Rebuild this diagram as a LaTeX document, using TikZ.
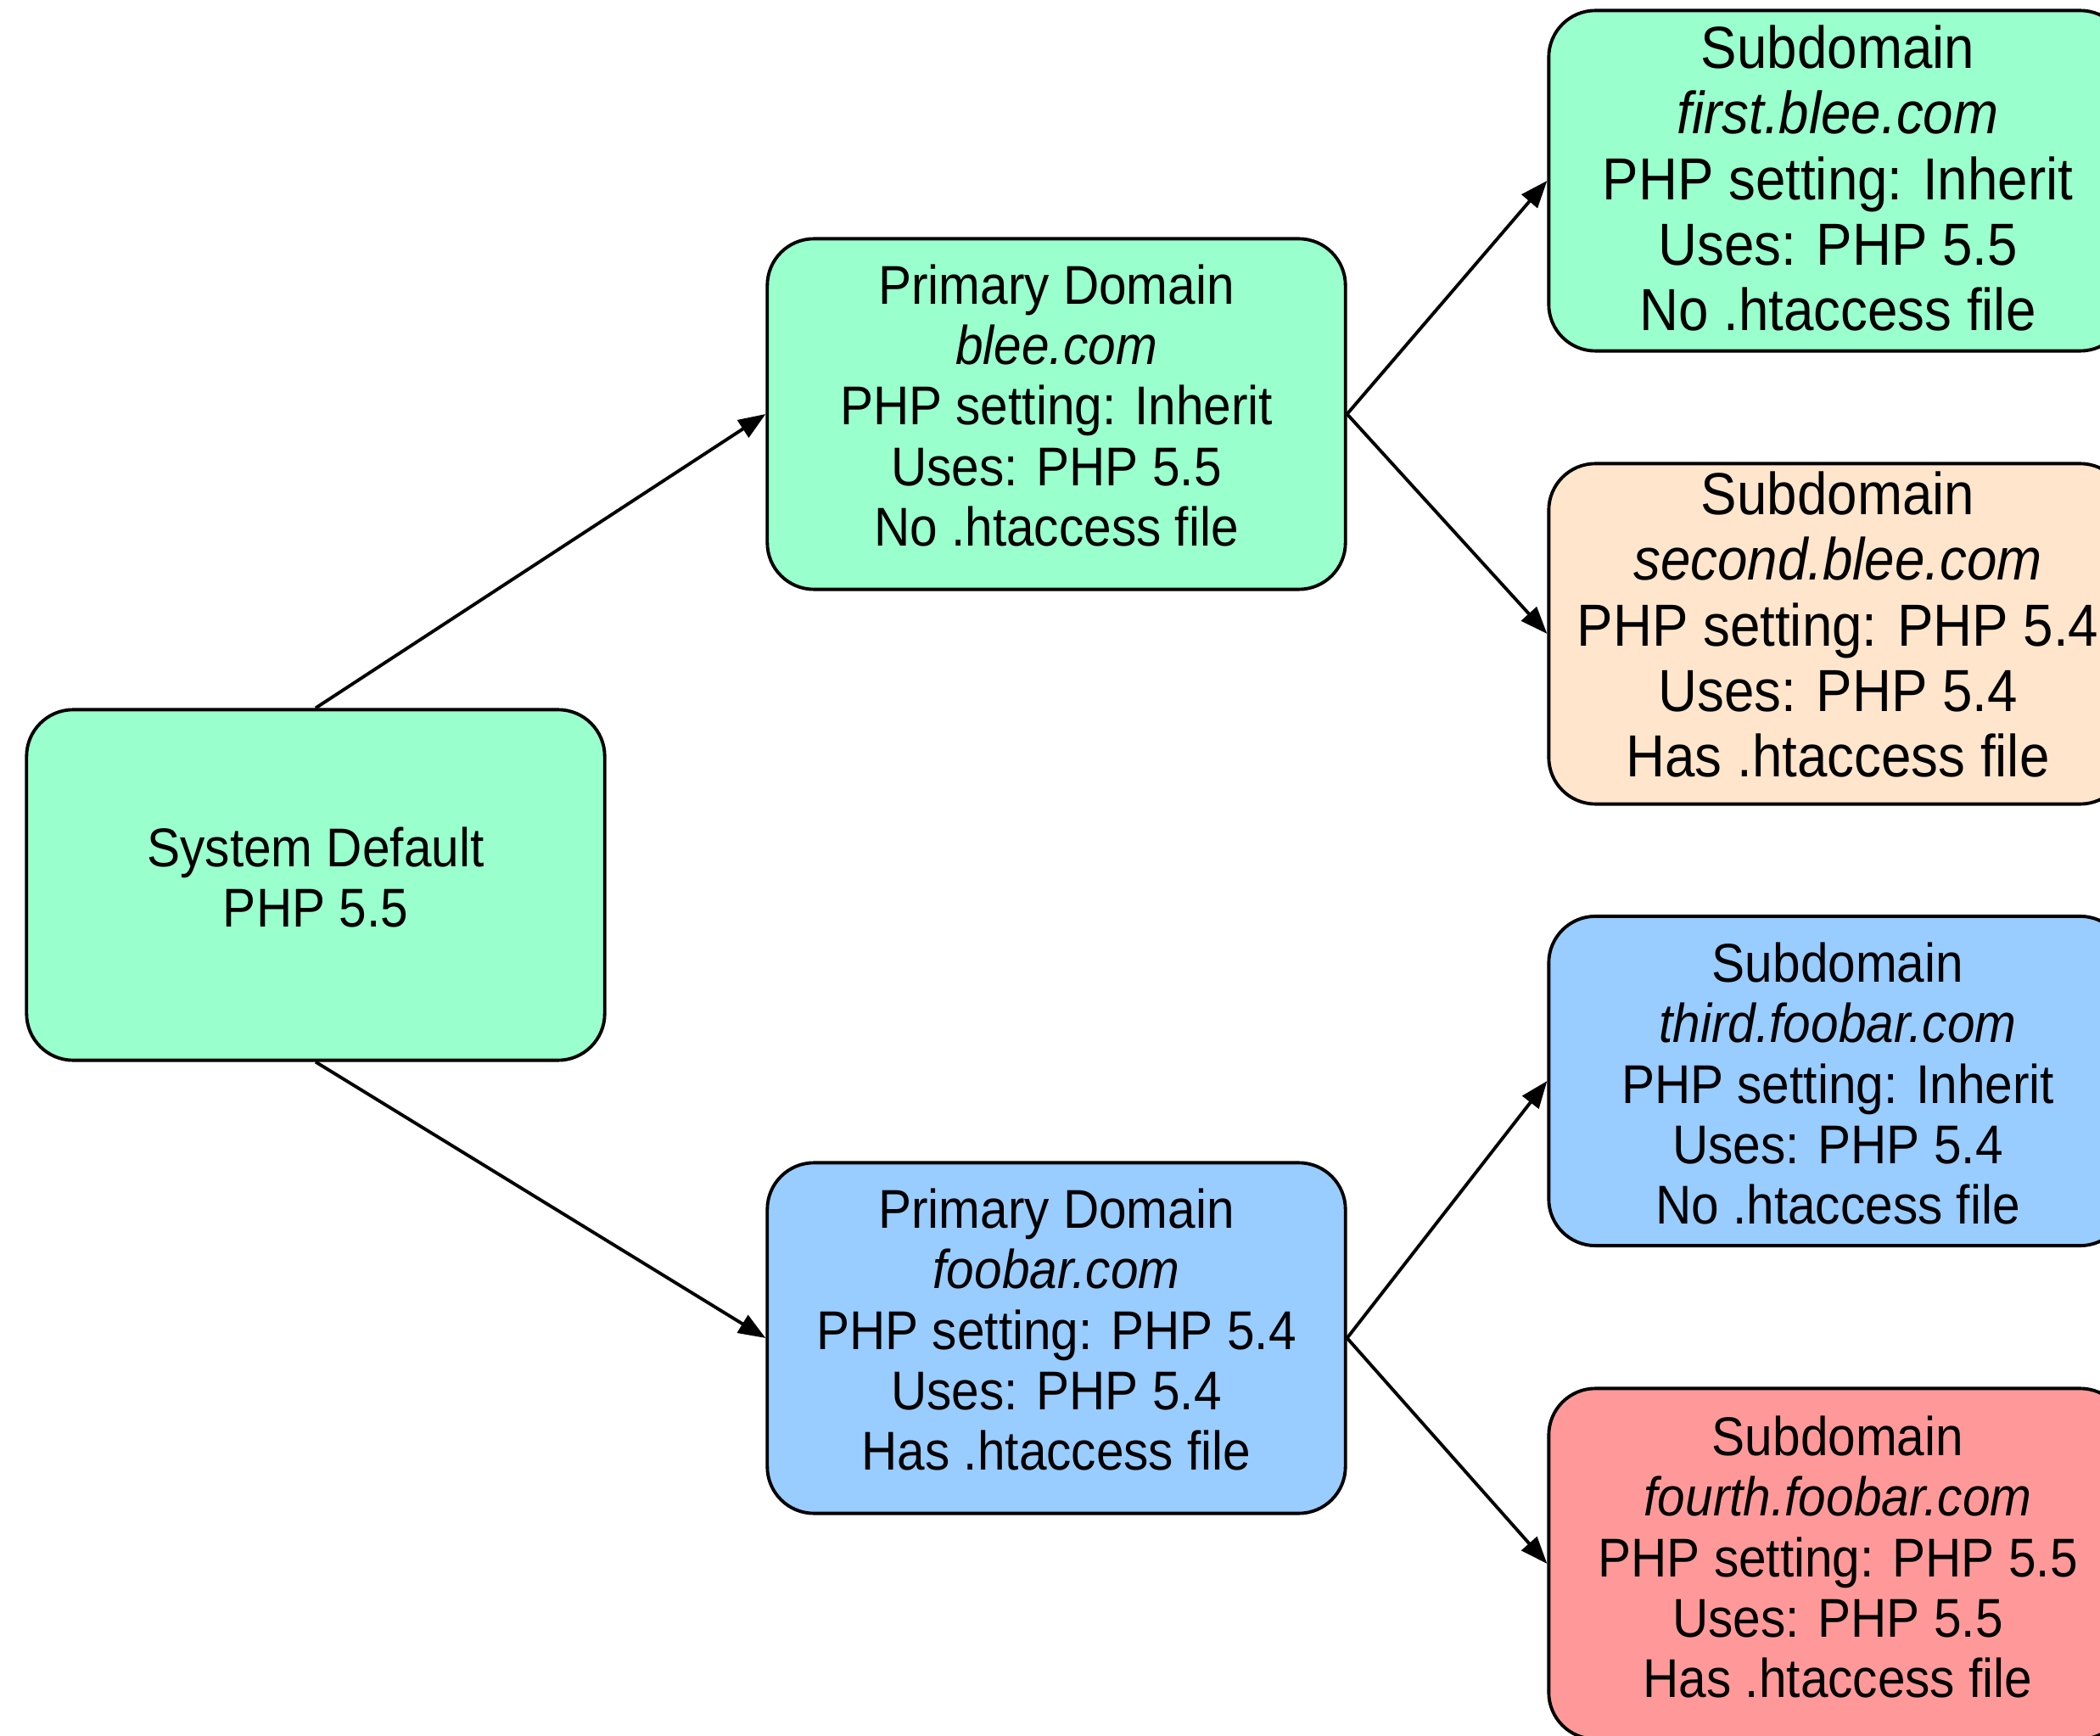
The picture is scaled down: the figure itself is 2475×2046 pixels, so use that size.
\documentclass[tikz,border=0pt]{standalone}
\usepackage{fontspec}
\setmainfont{Liberation Sans}[FakeStretch=0.91]
\usetikzlibrary{arrows.meta}
\definecolor{cgreen}{RGB}{153,255,204}
\definecolor{cpeach}{RGB}{255,229,204}
\definecolor{cblue}{RGB}{153,204,255}
\definecolor{cred}{RGB}{255,153,153}
\tikzset{
  box/.style={draw=black, line width=1.1pt, rounded corners=0.55cm,
    minimum width=6.81cm, minimum height=4.13cm, inner sep=0pt},
  txt/.style={inner sep=0pt, align=center, font=\fontsize{18.3}{20.2}\selectfont},
  bigtxt/.style={txt, font=\fontsize{19.9}{21.9}\selectfont},
  conn/.style={line width=1.1pt, -{Triangle[length=0.32cm,width=0.24cm]}}
}
\begin{document}
\begin{tikzpicture}[x=0.01cm,y=-0.01cm]
\useasboundingbox (0,0) rectangle (2475,2046);
\clip (0,0) rectangle (2475,2046);
\fill[white] (0,0) rectangle (2475,2046);
\node[box, fill=cgreen] (sys) at (372,1043) {};
\node[txt, yshift=0.09cm] (systxt) at (sys.center) {System Default\\PHP 5.5};
\node[box, fill=cgreen] (blee) at (1245,488) {};
\node[txt, yshift=0.10cm] (bleetxt) at (blee.center) {Primary Domain\\\textit{blee.com}\\PHP setting: Inherit\\Uses: PHP 5.5\\No .htaccess file};
\node[box, fill=cblue] (foo) at (1245,1577) {};
\node[txt, yshift=0.10cm] (footxt) at (foo.center) {Primary Domain\\\textit{foobar.com}\\PHP setting: PHP 5.4\\Uses: PHP 5.4\\Has .htaccess file};
\node[box, fill=cgreen, minimum height=4.01cm] (first) at (2166,213) {};
\node[bigtxt, yshift=0.03cm] (firsttxt) at (first.center) {Subdomain\\\textit{first.blee.com}\\PHP setting: Inherit\\Uses: PHP 5.5\\No .htaccess file};
\node[box, fill=cpeach, minimum height=4.01cm] (second) at (2166,747) {};
\node[bigtxt, yshift=0.11cm] (secondtxt) at (second.center) {Subdomain\\\textit{second.blee.com}\\PHP setting: PHP 5.4\\Uses: PHP 5.4\\Has .htaccess file};
\node[box, fill=cblue, minimum height=3.88cm] (third) at (2166,1274) {};
\node[txt, yshift=-0.03cm] (thirdtxt) at (third.center) {Subdomain\\\textit{third.foobar.com}\\PHP setting: Inherit\\Uses: PHP 5.4\\No .htaccess file};
\node[box, fill=cred, minimum height=4.13cm] (fourth) at (2166,1843) {};
\node[txt, yshift=0.08cm] (fourthtxt) at (fourth.center) {Subdomain\\\textit{fourth.foobar.com}\\PHP setting: PHP 5.5\\Uses: PHP 5.5\\Has .htaccess file};
\draw[conn] (sys.north) -- (blee.west);
\draw[conn] (sys.south) -- (foo.west);
\draw[conn] (blee.east) -- (first.west);
\draw[conn] (blee.east) -- (second.west);
\draw[conn] (foo.east) -- (third.west);
\draw[conn] (foo.east) -- (fourth.west);
\end{tikzpicture}
\end{document}
